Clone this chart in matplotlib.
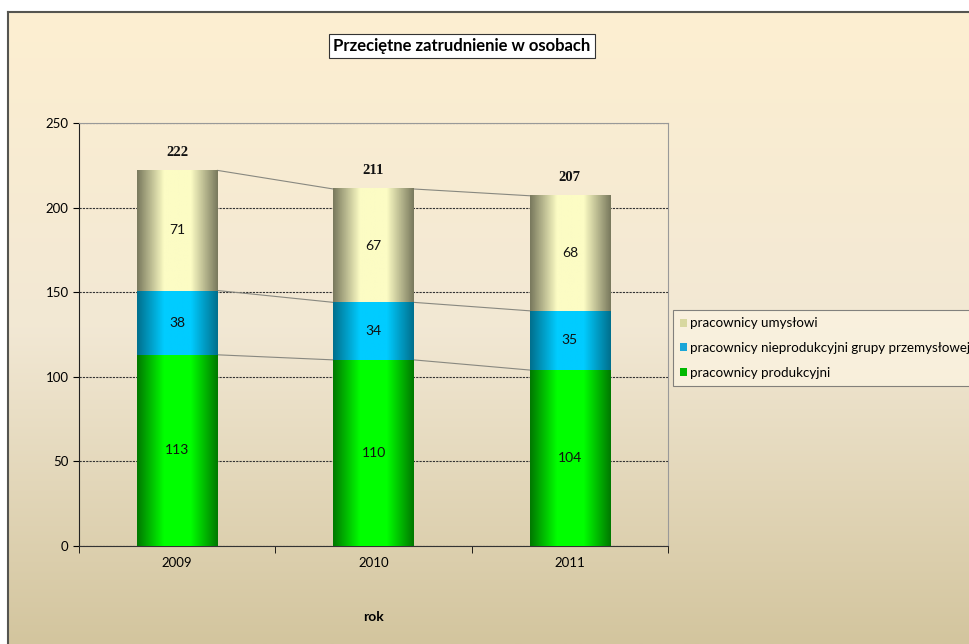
import numpy as np
import matplotlib
matplotlib.use('Agg')
import matplotlib.pyplot as plt
from matplotlib.colors import LinearSegmentedColormap
from matplotlib.patches import Rectangle

years = ['2009', '2010', '2011']
produkcyjni = [113, 110, 104]
nieprodukcyjni = [38, 34, 35]
umyslowi = [71, 67, 68]
totals = [222, 211, 207]

series = [
    ('pracownicy produkcyjni', produkcyjni, ('#007a00', '#00ff00'), '#00b800'),
    ('pracownicy nieprodukcyjni grupy przemysłowej', nieprodukcyjni, ('#00708e', '#00ccff'), '#1aa6d8'),
    ('pracownicy umysłowi', umyslowi, ('#7a7a5e', '#fcfcc4'), '#d8d8a0'),
]

plt.rcParams['font.family'] = ['Lato', 'DejaVu Sans']

fig = plt.figure(figsize=(9.7, 6.44), dpi=100)

# background frame with vertical gradient
bg = fig.add_axes([8 / 970, 0, 1 - 8 / 970, 1 - 12 / 644])
grad = np.linspace(0, 1, 256).reshape(-1, 1)
bg_cmap = LinearSegmentedColormap.from_list('bg', ['#fdefd1', '#f2e8d4', '#d3c59e'])
bg.imshow(grad, aspect='auto', cmap=bg_cmap, extent=[0, 1, 1, 0], origin='upper')
bg.set_xlim(0, 1)
bg.set_ylim(1, 0)
bg.set_xticks([])
bg.set_yticks([])
for s in ['right', 'bottom']:
    bg.spines[s].set_visible(False)
for s in ['left', 'top']:
    bg.spines[s].set_color('#555550')
    bg.spines[s].set_linewidth(1.5)

ax = fig.add_axes([79 / 970, 98 / 644, 589 / 970, 423 / 644])
ax.patch.set_alpha(0)
x = np.arange(len(years))
width = 0.41

bottoms = np.zeros(len(years))
handles = []
for name, vals, (edge_c, mid_c), leg_c in series:
    cmap = LinearSegmentedColormap.from_list(name, [edge_c, mid_c, mid_c, edge_c])
    hgrad = np.linspace(0, 1, 100).reshape(1, -1)
    for i, v in enumerate(vals):
        x0 = x[i] - width / 2
        ax.imshow(hgrad, aspect='auto', cmap=cmap, zorder=3,
                  extent=[x0, x0 + width, bottoms[i], bottoms[i] + v])
        ax.text(x[i], bottoms[i] + v / 2, str(v), ha='center', va='center',
                fontsize=10, color='#111111', zorder=5)
    bottoms = bottoms + np.array(vals)
    # series lines between bars
    for i in range(len(years) - 1):
        ax.plot([x[i] + width / 2, x[i + 1] - width / 2], [bottoms[i], bottoms[i + 1]],
                color='#888880', lw=0.8, zorder=2)
    handles.append(Rectangle((0, 0), 1, 1, fc=leg_c, ec='none', label=name))

ax.set_xlim(-0.5, 2.5)
ax.set_ylim(0, 250)

for i, t in enumerate(totals):
    ax.text(x[i], t + 7, str(t), ha='center', va='bottom', fontsize=10.5,
            fontweight='bold', family='Liberation Serif', color='#111111')

ax.set_yticks([0, 50, 100, 150, 200, 250])
ax.yaxis.grid(True, linestyle=(0, (2, 1)), color='#333333', lw=0.8, zorder=1)
ax.set_axisbelow(True)
ax.set_xticks(x)
ax.set_xticklabels(years)
ax.tick_params(axis='x', length=0, labelsize=9.5, pad=8)
ax.tick_params(axis='y', length=4, labelsize=9.5, direction='out')
ax.set_xticks([-0.5, 0.5, 1.5, 2.5], minor=True)
ax.tick_params(axis='x', which='minor', length=5, direction='out')
ax.spines['left'].set_color('#222222')
ax.spines['bottom'].set_color('#333333')
ax.spines['top'].set_color('#999999')
ax.spines['right'].set_color('#999999')
ax.set_xlabel('rok', fontsize=10, fontweight='bold', labelpad=30)

leg = fig.legend(handles[::-1], [h.get_label() for h in handles[::-1]], loc='upper left',
                 bbox_to_anchor=(673 / 970, 1 - 310 / 644), fontsize=9.6,
                 frameon=True, fancybox=False, handlelength=0.5, handleheight=0.55,
                 handletextpad=0.25, borderpad=0.55, labelspacing=0.95, borderaxespad=0)
leg.get_frame().set_edgecolor('#666666')
leg.get_frame().set_facecolor('#fbf3e0')
leg.get_frame().set_linewidth(0.8)

fig.text(462 / 970, 1 - 46 / 644, 'Przeciętne zatrudnienie w osobach', ha='center',
         va='center', fontsize=12, fontweight='bold',
         bbox=dict(boxstyle='square,pad=0.25', fc='white', ec='#333333', lw=0.8))

fig.savefig('out.png', dpi=100)
